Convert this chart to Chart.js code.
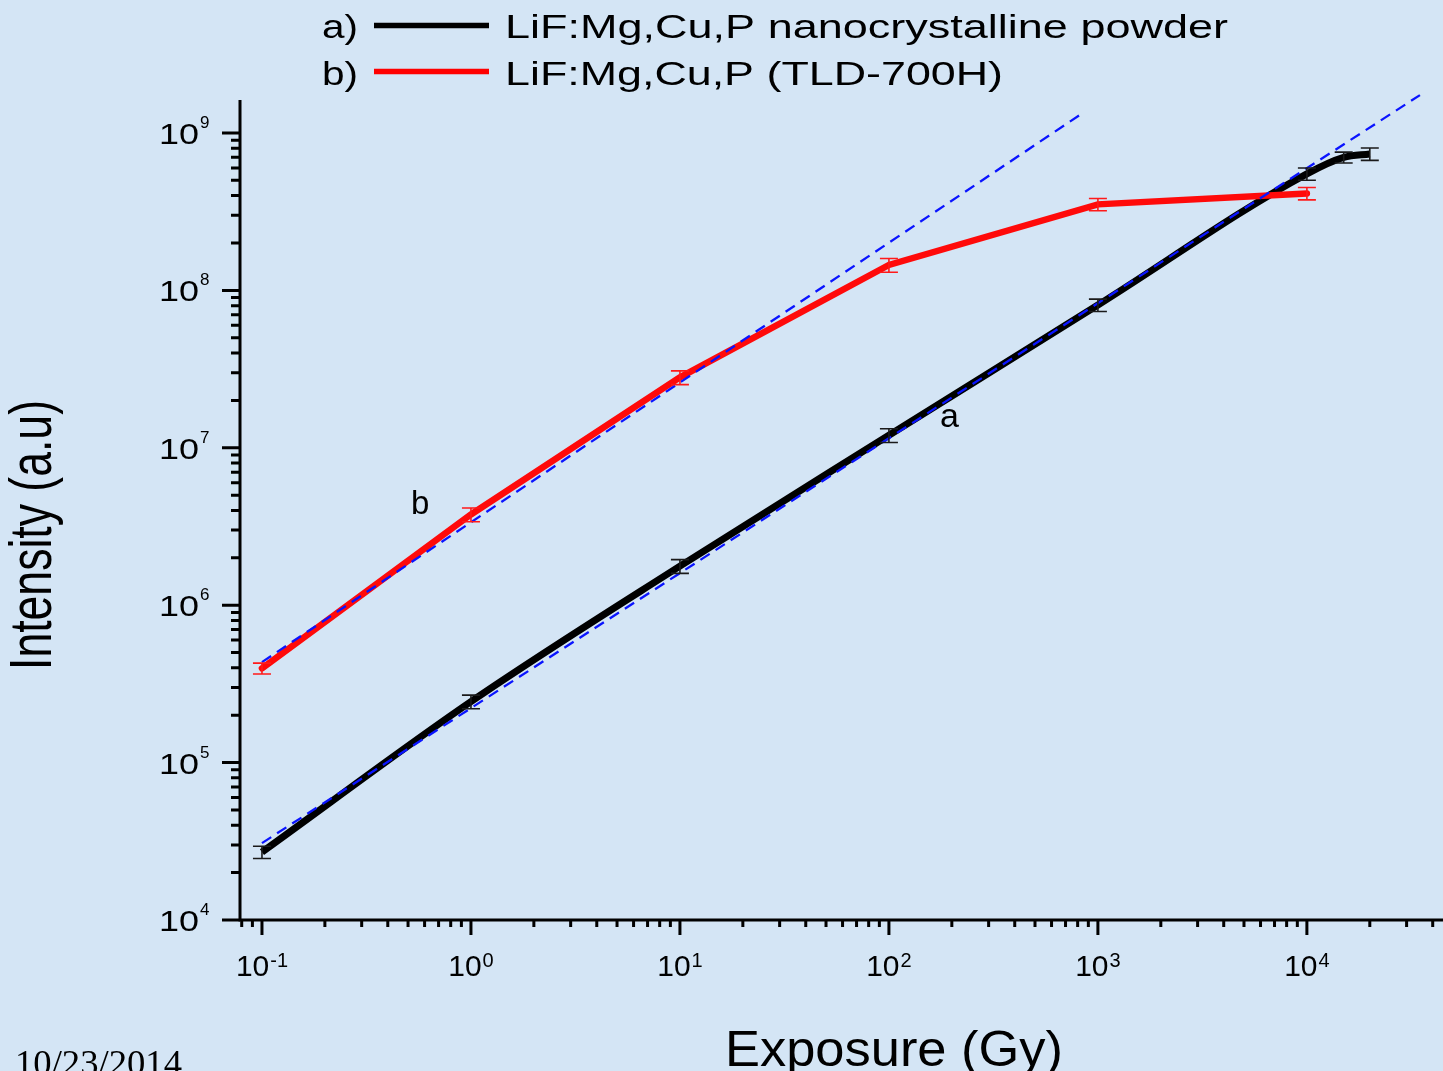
<!DOCTYPE html>
<html>
<head>
<meta charset="utf-8">
<script src="https://cdn.jsdelivr.net/npm/chart.js@4.4.1/dist/chart.umd.min.js"></script>
<style>
  html, body { margin: 0; padding: 0; background: #d4e5f5; overflow: hidden; }
  #wrap { width: 1443px; height: 1071px; }
  canvas { display: block; }
</style>
</head>
<body>
<div id="wrap"><canvas id="tl" width="1443" height="1071"></canvas></div>
<script>
// a) nanocrystalline powder
const doseA = [0.1, 1, 10, 100, 1000, 10000, 15000, 20000];
const intensityA = [2.7e4, 2.44e5, 1.77e6, 1.2e7, 8.07e7, 5.5e8, 7.0e8, 7.36e8];
const errA = [0.09, 0.1, 0.1, 0.1, 0.09, 0.09, 0.08, 0.09];

// b) TLD-700H
const doseB = [0.1, 1, 10, 100, 1000, 10000];
const intensityB = [3.97e5, 3.77e6, 2.8e7, 1.45e8, 3.52e8, 4.13e8];
const errB = [0.08, 0.1, 0.1, 0.1, 0.09, 0.09];

// linear (slope) guide lines, dashed blue
const fitAx = [0.1, 34750];
const fitAy = [3.08e4, 1.74e9];
const fitBx = [0.1, 847];
const fitBy = [4.35e5, 1.34e9];

const xTickExps = [-1, 0, 1, 2, 3, 4];
const yTickExps = [4, 5, 6, 7, 8, 9];
const minorSteps = [2, 3, 4, 5, 6, 7, 8, 9];

const legendLabels = ["LiF:Mg,Cu,P nanocrystalline powder", "LiF:Mg,Cu,P (TLD-700H)"];

const SANS = '"Liberation Sans", Arial, sans-serif';
const SERIF = '"Liberation Serif", "Times New Roman", serif';

const pts = (xs, ys) => xs.map((x, i) => ({ x, y: ys[i] }));

function fitText(ctx, txt, x, y, size, width, family, align) {
  ctx.save();
  ctx.font = size + "px " + family;
  const w = ctx.measureText(txt).width;
  const sx = width ? width / w : 1;
  let x0 = x;
  if (align === "center") x0 = x - (w * sx) / 2;
  else if (align === "right") x0 = x - w * sx;
  ctx.translate(x0, y);
  ctx.scale(sx, 1);
  ctx.textAlign = "left";
  ctx.textBaseline = "alphabetic";
  ctx.fillStyle = "#000";
  ctx.fillText(txt, 0, 0);
  ctx.restore();
  return w * sx;
}

function textW(ctx, txt, size, family) {
  ctx.save();
  ctx.font = size + "px " + family;
  const w = ctx.measureText(txt).width;
  ctx.restore();
  return w;
}

function drawErrors(ctx, chart, xs, ys, errs, color) {
  const sx = chart.scales.x, sy = chart.scales.y;
  ctx.save();
  ctx.strokeStyle = color;
  ctx.lineWidth = 1.6;
  xs.forEach((x, i) => {
    const px = sx.getPixelForValue(x);
    const top = sy.getPixelForValue(ys[i] * (1 + errs[i]));
    const bot = sy.getPixelForValue(ys[i] * (1 - errs[i]));
    ctx.beginPath();
    ctx.moveTo(px, top); ctx.lineTo(px, bot);
    ctx.moveTo(px - 9, top); ctx.lineTo(px + 9, top);
    ctx.moveTo(px - 9, bot); ctx.lineTo(px + 9, bot);
    ctx.stroke();
  });
  ctx.restore();
}

const decor = {
  id: "decor",
  afterDatasetsDraw(chart) {
    const ctx = chart.ctx;
    drawErrors(ctx, chart, doseA, intensityA, errA, "#1a1a1a");
    drawErrors(ctx, chart, doseB, intensityB, errB, "#ff1a1a");
  },
  afterDraw(chart) {
    const ctx = chart.ctx;
    const sx = chart.scales.x, sy = chart.scales.y;
    const a = chart.chartArea;

    // axes
    ctx.save();
    ctx.strokeStyle = "#000";
    ctx.lineWidth = 3;
    ctx.beginPath();
    ctx.moveTo(a.left, a.top);
    ctx.lineTo(a.left, a.bottom);
    ctx.lineTo(a.right, a.bottom);
    ctx.stroke();

    // ticks
    ctx.beginPath();
    for (let d = -2; d <= 9; d++) {
      const major = Math.pow(10, d);
      if (major >= sx.min && major <= sx.max) {
        const p = sx.getPixelForValue(major);
        ctx.moveTo(p, a.bottom); ctx.lineTo(p, a.bottom + 15);
      }
      if (major >= sy.min && major <= sy.max) {
        const p = sy.getPixelForValue(major);
        ctx.moveTo(a.left, p); ctx.lineTo(a.left - 18, p);
      }
      minorSteps.forEach(m => {
        const v = m * major;
        if (v >= sx.min && v <= sx.max) {
          const p = sx.getPixelForValue(v);
          ctx.moveTo(p, a.bottom); ctx.lineTo(p, a.bottom + 7);
        }
        if (v >= sy.min && v <= sy.max) {
          const p = sy.getPixelForValue(v);
          ctx.moveTo(a.left, p); ctx.lineTo(a.left - 9, p);
        }
      });
    }
    ctx.stroke();
    ctx.restore();

    // x tick labels
    xTickExps.forEach(e => {
      const p = sx.getPixelForValue(Math.pow(10, e));
      const sup = String(e);
      const w10 = textW(ctx, "10", 30, SANS);
      const ws = textW(ctx, sup, 20, SANS);
      const start = p - (w10 + ws + 1) / 2;
      fitText(ctx, "10", start, a.bottom + 56, 30, 0, SANS, "left");
      fitText(ctx, sup, start + w10 + 1, a.bottom + 47, 20, 0, SANS, "left");
    });

    // y tick labels
    yTickExps.forEach(e => {
      const p = sy.getPixelForValue(Math.pow(10, e));
      fitText(ctx, "10", 199, p + 11, 30, 40, SANS, "right");
      fitText(ctx, String(e), 200, p - 5, 17, 0, SANS, "left");
    });

    // axis titles
    fitText(ctx, "Exposure (Gy)", 894, 1066, 50, 338, SANS, "center");
    ctx.save();
    ctx.translate(51, 535);
    ctx.rotate(-Math.PI / 2);
    fitText(ctx, "Intensity (a.u)", 0, 0, 60, 270, SANS, "center");
    ctx.restore();

    // curve labels
    fitText(ctx, "a", 940, 427, 34, 0, SANS, "left");
    fitText(ctx, "b", 411, 514, 33, 0, SANS, "left");

    // legend
    const rows = [
      { tag: "a)", color: "#000", y: 25.5, base: 37.5 },
      { tag: "b)", color: "#ff0000", y: 71.5, base: 84.5 }
    ];
    rows.forEach((r, i) => {
      fitText(ctx, r.tag, 322, r.base, 33.5, 36, SANS, "left");
      ctx.save();
      ctx.strokeStyle = r.color;
      ctx.lineWidth = 5.5;
      ctx.beginPath();
      ctx.moveTo(374, r.y); ctx.lineTo(489, r.y);
      ctx.stroke();
      ctx.restore();
      fitText(ctx, legendLabels[i], 505, r.base, 33.5, i === 0 ? 723 : 498, SANS, "left");
    });

    // date stamp
    fitText(ctx, "10/23/2014", 15, 1075, 36, 167, SERIF, "left");
  }
};

new Chart(document.getElementById("tl"), {
  type: "line",
  data: {
    datasets: [
      {
        data: pts(fitAx, fitAy),
        borderColor: "#0a14ff",
        borderWidth: 2.3,
        borderDash: [11, 7],
        pointRadius: 0,
        clip: false
      },
      {
        data: pts(fitBx, fitBy),
        borderColor: "#0a14ff",
        borderWidth: 2.3,
        borderDash: [11, 7],
        pointRadius: 0,
        clip: false
      },
      {
        data: pts(doseB, intensityB),
        borderColor: "#ff0a0a",
        borderWidth: 6.5,
        tension: 0,
        pointRadius: 0,
        borderCapStyle: "round",
        clip: false
      },
      {
        data: pts(doseA, intensityA),
        borderColor: "#000",
        borderWidth: 7,
        cubicInterpolationMode: "monotone",
        pointRadius: 0,
        clip: false
      }
    ]
  },
  options: {
    responsive: false,
    animation: false,
    events: [],
    layout: { padding: { left: 240, right: 0, top: 100, bottom: 151 } },
    plugins: { legend: { display: false }, tooltip: { enabled: false } },
    scales: {
      x: { type: "logarithmic", min: 0.0785, max: 44800, display: false },
      y: { type: "logarithmic", min: 1e4, max: 1.62e9, display: false }
    }
  },
  plugins: [decor]
});
</script>
</body>
</html>
